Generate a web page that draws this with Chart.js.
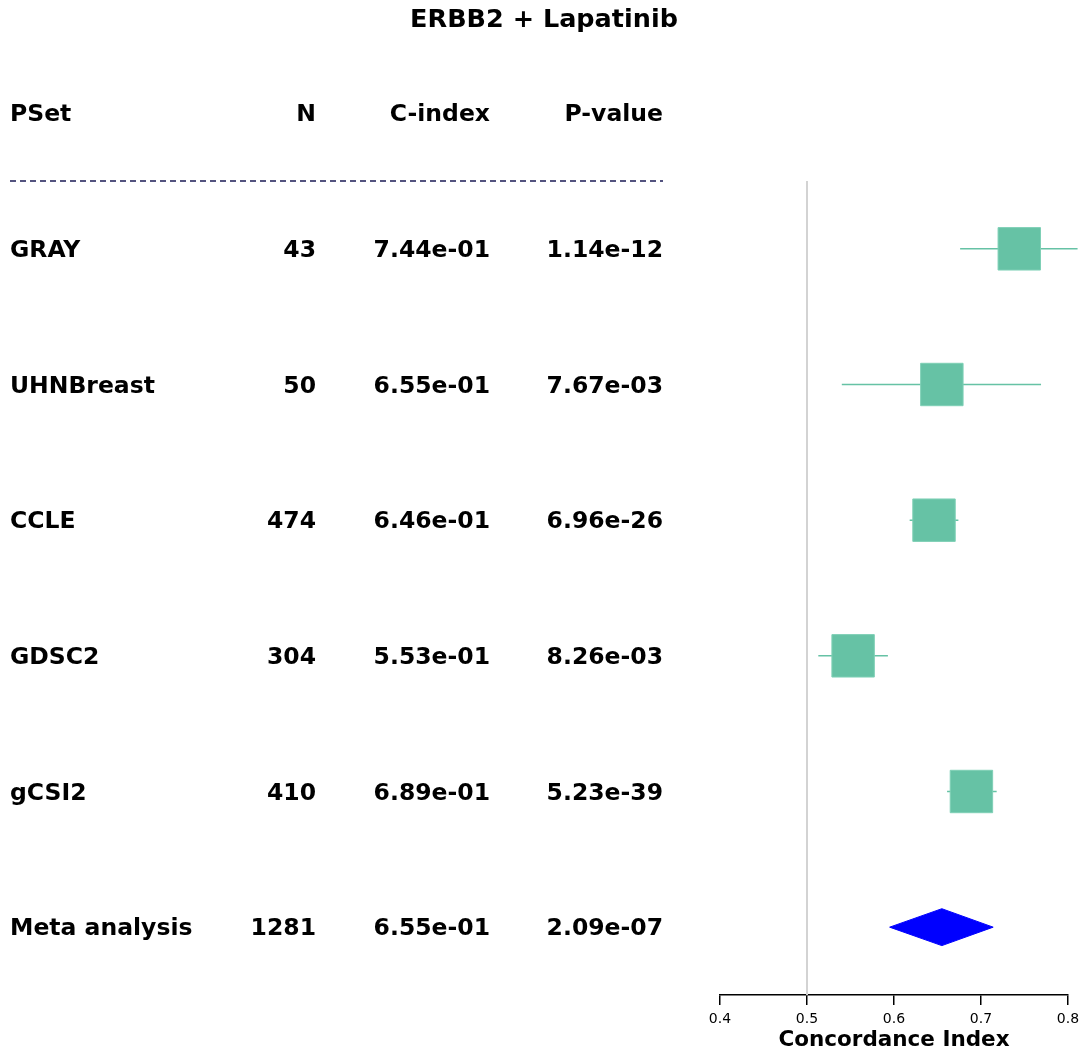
<!DOCTYPE html>
<html>
<head>
<meta charset="utf-8">
<script src="https://cdn.jsdelivr.net/npm/chart.js@4"></script>
<style>
  body { margin: 0; background: #fff; }
</style>
</head>
<body>
<canvas id="forest" width="1082" height="1053"></canvas>
<script>
// #region data
const psets = ["GRAY", "UHNBreast", "CCLE", "GDSC2", "gCSI2", "Meta analysis"];
const nValues = ["43", "50", "474", "304", "410", "1281"];
const cIndexText = ["7.44e-01", "6.55e-01", "6.46e-01", "5.53e-01", "6.89e-01", "6.55e-01"];
const pValueText = ["1.14e-12", "7.67e-03", "6.96e-26", "8.26e-03", "5.23e-39", "2.09e-07"];
const cIndex = [0.744, 0.655, 0.646, 0.553, 0.689];
const ciLower = [0.676, 0.540, 0.618, 0.513, 0.661];
const ciUpper = [0.811, 0.769, 0.674, 0.593, 0.718];
const metaEstimate = 0.655;
const metaLower = 0.595;
const metaUpper = 0.714;
const headers = ["PSet", "N", "C-index", "P-value"];
const xTicks = [0.4, 0.5, 0.6, 0.7, 0.8];
// #endregion

const green = "#66c2a5";
const font = "DejaVu Sans";

// whiskers, one line per study
let whiskerSets = cIndex.map((c, i) => ({
    type: "line",
    data: [{x: ciLower[i], y: i}, {x: ciUpper[i], y: i}],
    borderColor: green,
    borderWidth: 1.5,
    pointRadius: 0,
    order: 2
}));

// table text drawn next to the plot
const tablePlugin = {
    id: "table",
    afterDraw(chart) {
        const ctx = chart.ctx;
        const y = chart.scales.y;
        ctx.save();
        ctx.fillStyle = "#000";
        ctx.textBaseline = "middle";
        ctx.font = `bold 25.5px ${font}`;
        ctx.textAlign = "center";
        ctx.fillText("ERBB2 + Lapatinib", 544, 20);

        ctx.font = `bold 23.5px ${font}`;
        const cols = [{x: 10, align: "left"}, {x: 316, align: "right"}, {x: 490, align: "right"}, {x: 663, align: "right"}];
        const rowText = (vals, yy) => {
            vals.forEach((v, k) => {
                ctx.textAlign = cols[k].align;
                ctx.fillText(v, cols[k].x, yy + 2);
            });
        };
        rowText(headers, y.getPixelForValue(-1));
        psets.forEach((p, i) => {
            rowText([p, nValues[i], cIndexText[i], pValueText[i]], y.getPixelForValue(i));
        });

        // dashed separator under header
        const sepY = y.getPixelForValue(-0.5);
        ctx.strokeStyle = "#1b1b55";
        ctx.lineWidth = 1.5;
        ctx.setLineDash([6, 4]);
        ctx.beginPath();
        ctx.moveTo(10, sepY);
        ctx.lineTo(663, sepY);
        ctx.stroke();
        ctx.restore();
    }
};

new Chart(document.getElementById("forest"), {
    type: "scatter",
    data: {
        datasets: [
            {
                // study estimates
                data: cIndex.map((c, i) => ({x: c, y: i})),
                pointStyle: "rect",
                pointRadius: 30,
                pointHoverRadius: 30,
                backgroundColor: green,
                borderColor: "#7fd0b6",
                borderWidth: 1,
                order: 0
            },
            {
                // meta analysis diamond
                type: "line",
                data: [
                    {x: metaLower, y: 5},
                    {x: metaEstimate, y: 4.864},
                    {x: metaUpper, y: 5},
                    {x: metaEstimate, y: 5.136},
                    {x: metaLower, y: 5}
                ],
                borderColor: "#0000ff",
                backgroundColor: "#0000ff",
                borderWidth: 1,
                pointRadius: 0,
                fill: "shape",
                order: 0
            },
            {
                // null line at 0.5
                type: "line",
                data: [{x: 0.5, y: -0.5}, {x: 0.5, y: 5.5}],
                borderColor: "#d3d3d3",
                borderWidth: 2,
                pointRadius: 0,
                order: 3
            },
            ...whiskerSets
        ]
    },
    options: {
        responsive: false,
        animation: false,
        clip: false,
        layout: {autoPadding: false, padding: {left: 720, right: 14, top: 181, bottom: 0}},
        plugins: {
            legend: {display: false},
            tooltip: {enabled: false}
        },
        scales: {
            x: {
                type: "linear",
                min: 0.4,
                max: 0.8,
                afterBuildTicks: (scale) => { scale.ticks = xTicks.map(v => ({value: v})); },
                afterFit: (scale) => {
                    scale.height = 58;
                    scale.paddingLeft = 0;
                    scale.paddingRight = 0;
                },
                border: {display: true, color: "#000", width: 1.5},
                grid: {drawOnChartArea: false, drawTicks: true, tickLength: 10, color: "#000", lineWidth: 1.5},
                ticks: {
                    color: "#000",
                    font: {family: font, size: 14},
                    padding: 6,
                    maxRotation: 0,
                    callback: v => v.toFixed(1)
                },
                title: {
                    display: true,
                    text: "Concordance Index",
                    color: "#000",
                    font: {family: font, size: 21.5, weight: "bold"},
                    padding: {top: 0, bottom: 0}
                }
            },
            y: {
                type: "linear",
                reverse: true,
                min: -0.5,
                max: 5.5,
                display: false
            }
        }
    },
    plugins: [tablePlugin]
});
</script>
</body>
</html>
